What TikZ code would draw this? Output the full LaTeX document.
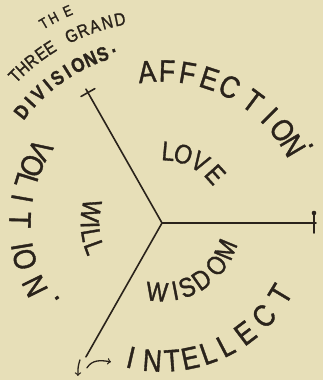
\documentclass[tikz,border=0pt]{standalone}
\usepackage{fontspec}
\setmainfont{Liberation Sans}[FakeStretch=0.85, FakeBold=1.2]
\definecolor{paper}{RGB}{231,223,184}
\definecolor{ink}{RGB}{42,35,27}
\tikzset{
    arm/.style={line width=1.6pt, draw=ink, line cap=round},
    hand/.style={line width=1.3pt, draw=ink, line cap=round},
    bigletter/.style={inner sep=0pt, text=ink, font=\fontsize{31}{31}\selectfont},
    midletter/.style={inner sep=0pt, text=ink, font=\fontsize{27}{27}\selectfont},
    titleletter/.style={inner sep=0pt, text=ink, font=\fontsize{18}{18}\selectfont},
    theletter/.style={inner sep=0pt, text=ink, font=\fontsize{15}{15}\selectfont},
    boldletter/.style={inner sep=0pt, text=ink, font=\bfseries\fontsize{20}{20}\selectfont}
}
\begin{document}
\begin{tikzpicture}[x=1pt, y=1pt, >=to]
    \fill[paper] (0,0) rectangle (323,380);
    \useasboundingbox (0,0) rectangle (323,380);
    \coordinate (hub) at (162,157);
    \coordinate (nwend) at ([shift={(119.6:154)}]hub);
    \coordinate (nwbar) at ([shift={(119.6:150)}]hub);
    \coordinate (eend) at (316,157);
    \coordinate (ebar) at (314,157);
    \coordinate (swend) at ([shift={(-119.6:154)}]hub);
    \draw[arm] (hub) -- (nwend);
    \draw[arm] (hub) -- (eend);
    \draw[arm] (hub) -- (swend);
    \draw[arm] ([shift={(29.6:8)}]nwbar) -- ([shift={(209.6:8)}]nwbar);
    \draw[arm] ([yshift=10]ebar) -- ([yshift=-10]ebar);
    \fill[ink] ([yshift=10]ebar) circle (2.3);
    \draw[hand, ->] ([shift={(-6,-3)}]swend) .. controls ([shift={(-8,-10)}]swend) .. ([shift={(-8,-19)}]swend);
    \draw[hand, ->] ([shift={(1,-11)}]swend) .. controls ([shift={(6,-3)}]swend) and ([shift={(14,-3)}]swend) .. ([shift={(25,-5)}]swend);
    \foreach \ch/\a [count=\i] in {T/120.6, H/117.9, E/114}
        \node[theletter, rotate=\a-90] (the\i) at ([shift={(\a:232)}]hub) {\ch};
    \foreach \ch/\a [count=\i] in {T/135, H/132.1, R/128.9, E/125.5, E/122.6, G/115.8, R/112.3, A/108.9, N/105.3, D/101.7}
        \node[titleletter, rotate=\a-90] (three\i) at ([shift={(\a:208)}]hub) {\ch};
    \foreach \ch/\a [count=\i] in {D/141.5, I/137.5, V/133.6, I/129.6, S/125.8, I/122, O/118, N/113.6, S/109.4, ./105.6}
        \node[boldletter, rotate=\a-90] (div\i) at ([shift={(\a:179)}]hub) {\ch};
    \foreach \ch/\a [count=\i] in {A/95.7, F/88.1, F/80.3, E/71.8, C/63.6, T/53.3, I/45, O/37.6, N/30.6}
        \node[bigletter, rotate=\a-90] (aff\i) at ([shift={(\a:152)}]hub) {\ch};
    \node[bigletter, rotate=-62] (affdot) at ([shift={(27.5:168)}]hub) {.};
    \foreach \ch/\a [count=\i] in {V/149, O/156.2, L/162.7, I/170, T/178.8, I/189.5, O/194.8, N/206.4}
        \node[bigletter, rotate=\a+90] (vol\i) at ([shift={(\a:142)}]hub) {\ch};
    \node[bigletter, rotate=305] (voldot) at ([shift={(215.5:129)}]hub) {.};
    \foreach \ch/\a [count=\i] in {I/-103, N/-94, T/-85.8, E/-78.2, L/-70.5, L/-62.5, E/-52.9, C/-42.4, T/-31}
        \node[bigletter, rotate=\a+90] (int\i) at ([shift={(\a:138)}]hub) {\ch};
    \foreach \ch/\a [count=\i] in {L/85, O/72.8, V/58, E/42.3}
        \node[midletter, rotate=\a-90] (love\i) at ([shift={(\a:72)}]hub) {\ch};
    \foreach \ch/\a [count=\i] in {W/-94, I/-79, S/-68.7, D/-54.9, O/-38, M/-22.6}
        \node[midletter, rotate=\a+90] (wis\i) at ([shift={(\a:69)}]hub) {\ch};
    \foreach \ch/\a [count=\i] in {W/170.2, I/181.6, L/189.7, L/199.9}
        \node[midletter, rotate=\a+90] (will\i) at ([shift={(\a:72)}]hub) {\ch};
\end{tikzpicture}
\end{document}
